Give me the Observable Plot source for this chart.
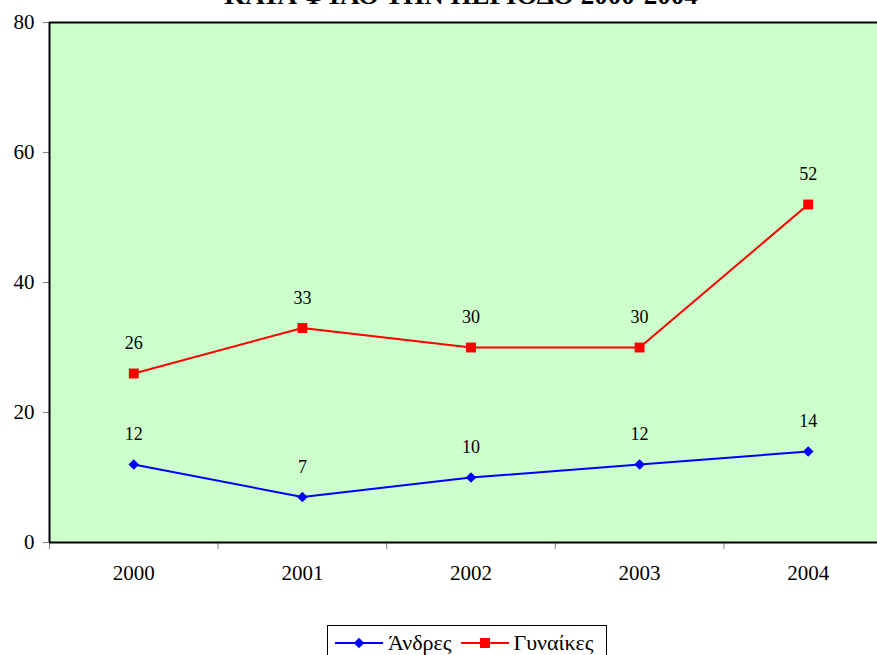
<!DOCTYPE html>
<html><head><meta charset="utf-8">
<script src="https://cdn.jsdelivr.net/npm/d3@7"></script>
<script src="https://cdn.jsdelivr.net/npm/@observablehq/plot@0.6"></script>
<style>
html,body{margin:0;background:#fff;overflow:hidden;}
#wrap{position:relative;width:877px;height:655px;overflow:hidden;font-family:"Liberation Serif",serif;color:#000;}
#title{position:absolute;left:0;width:922px;text-align:center;top:-18px;font-weight:bold;font-size:27px;line-height:27px;white-space:nowrap;}
#chart{position:absolute;left:0;top:0;width:892px;height:600px;}
#chart svg{max-width:none !important;}
#legend{position:absolute;left:327px;top:625px;width:280px;height:40px;border:1px solid #000;box-sizing:border-box;background:#fff;display:flex;align-items:flex-start;padding:6px 0 0 7px;font-size:22px;line-height:22px;white-space:nowrap;}
#legend .item{display:flex;align-items:center;margin-right:9px;}
#legend svg{margin-right:5px;}
</style></head>
<body>
<div id="wrap">
  <div id="title">ΚΑΤΑ ΦΥΛΟ ΤΗΝ ΠΕΡΙΟΔΟ 2000-2004</div>
  <div id="chart"></div>
  <div id="legend"></div>
</div>
<script>
const years = [2000, 2001, 2002, 2003, 2004];
const men = [12, 7, 10, 12, 14];
const women = [26, 33, 30, 30, 52];
const yTicks = [0, 20, 40, 60, 80];
const seriesNames = ["Άνδρες", "Γυναίκες"];
const seriesColors = ["#0000FF", "#FF0000"];
const seriesSymbols = ["diamond2", "square"];

const boundaries = [...years.map(y => y - 0.5), years[years.length - 1] + 0.5];
const data = years.flatMap((y, i) => [
  {year: y, value: men[i], s: seriesNames[0]},
  {year: y, value: women[i], s: seriesNames[1]}
]);
const menData = data.filter(d => d.s === seriesNames[0]);
const womenData = data.filter(d => d.s === seriesNames[1]);
const FONT = "Liberation Serif";

const chart = Plot.plot({
  width: 892, height: 600,
  marginLeft: 49, marginRight: 0, marginTop: 22, marginBottom: 58,
  style: {fontFamily: FONT, fontSize: "21px", background: "transparent", color: "#000", maxWidth: "none"},
  x: {type: "linear", domain: [boundaries[0], boundaries[boundaries.length - 1]]},
  y: {domain: [0, 80]},
  marks: [
    Plot.frame({fill: "#CCFFCC", stroke: null}),
    Plot.axisY({ticks: yTicks, tickSize: 6, tickPadding: 9, stroke: "#808080", label: null, tickFormat: d => String(d), fill: "#000", fontSize: 21, fontFamily: FONT}),
    Plot.axisX({ticks: boundaries, tickSize: 7, tickFormat: () => "", stroke: "#808080", label: null}),
    Plot.axisX({ticks: years, tickSize: 0, tickPadding: 23, tickFormat: d => String(d), label: null, fill: "#000", fontSize: 21, fontFamily: FONT}),
    Plot.ruleY([0], {stroke: "#000", strokeWidth: 2}),
    Plot.ruleX([boundaries[0]], {stroke: "#000", strokeWidth: 2}),
    Plot.ruleY([80], {stroke: "#000", strokeWidth: 2}),
    Plot.line(menData, {x: "year", y: "value", stroke: seriesColors[0], strokeWidth: 2}),
    Plot.line(womenData, {x: "year", y: "value", stroke: seriesColors[1], strokeWidth: 2}),
    Plot.dot(menData, {x: "year", y: "value", symbol: seriesSymbols[0], r: 4.8, fill: seriesColors[0], stroke: null}),
    Plot.dot(womenData, {x: "year", y: "value", symbol: seriesSymbols[1], r: 5.6, fill: seriesColors[1], stroke: null}),
    Plot.text(data, {x: "year", y: "value", text: d => String(d.value), dy: -30, fill: "#000", fontSize: 18, fontFamily: FONT})
  ]
});
chart.style.maxWidth = "none";
document.getElementById("chart").appendChild(chart);

const legend = d3.select("#legend");
seriesNames.forEach((name, i) => {
  const item = legend.append("div").attr("class", "item");
  const svg = item.append("svg").attr("width", 48).attr("height", 14);
  svg.append("line").attr("x1", 0).attr("x2", 48).attr("y1", 7).attr("y2", 7).attr("stroke", seriesColors[i]).attr("stroke-width", 2);
  const sym = i === 0 ? d3.symbolDiamond2 : d3.symbolSquare;
  const size = i === 0 ? 70 : 100;
  svg.append("path").attr("d", d3.symbol(sym, size)()).attr("transform", "translate(24,7)").attr("fill", seriesColors[i]);
  item.append("span").text(name);
});
</script>
</body></html>
